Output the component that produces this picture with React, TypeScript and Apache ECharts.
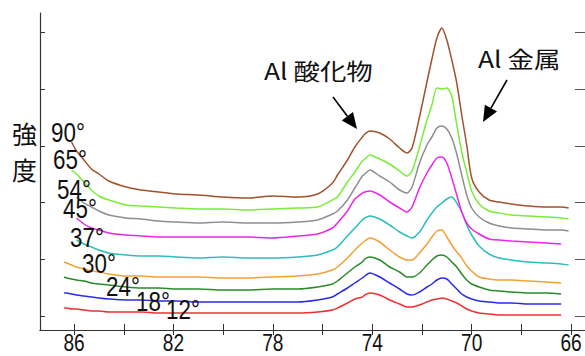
import React, { useEffect, useRef } from "react";
import * as echarts from "echarts";

// Binding energy (eV), axis reversed
const bindingEnergy = [86.4, 86.3, 86.1, 85.9, 85.6, 85.3, 85.0, 84.6, 83.9, 83.3, 82.6, 81.9, 81.0, 80.0, 79.0, 78.0, 77.0, 76.2, 75.6, 75.4, 75.0, 74.7, 74.4, 74.3, 74.1, 73.7, 73.3, 72.9, 72.6, 72.4, 72.1, 71.8, 71.6, 71.4, 71.2, 71.0, 70.8, 70.6, 70.4, 70.2, 70.0, 69.7, 69.3, 68.9, 68.4, 67.7, 67.0, 66.4, 66.1];

// Intensity (arbitrary units, offset stacked) for each take-off angle
const deg90 = [null, null, 188, 179, 170, 161, 156, 149, 143, 140, 138, 136, 135, 133, 132, 134, 133, 136, 147, 155, 170, 183, 193, 196, 199, 197, 191, 182, 177, 182, 213, 248, 271, 292, 302, 290, 270, 247, 215, 185, 152, 138, 130, 128, 126, 124, 123, 123, 122];
const deg65 = [null, null, 160, 156, 148, 140, 134, 130, 125, 124, 123, 122, 121, 121, 120, 121, 122, 123, 130, 133, 148, 158, 169, 171, 175, 171, 166, 159, 154, 159, 183, 210, 225, 242, 241, 242, 234, 205, 178, 158, 139, 126, 119, 117, 115, 114, 113, 112, 111];
const deg54 = [null, null, null, 133, 127, 123, 119, 115, 112, 111, 109, 108, 107, 108, 107, 107, 108, 110, 116, 119, 130, 142, 154, 156, 160, 154, 148, 140, 137, 143, 167, 185, 193, 202, 204, 201, 192, 176, 155, 135, 122, 113, 107, 104, 102, 101, 100, 100, 99];
const deg45 = [null, null, null, 112, 106, 102, 100, 97, 95, 94, 93, 93, 93, 93, 93, 92, 94, 96, 102, 107, 119, 131, 137, 138, 139, 135, 128, 122, 118, 123, 142, 157, 165, 172, 173, 167, 152, 135, 118, 107, 101, 96, 91, 90, 89, 88, 87, 86, null];
const deg37 = [null, null, null, 90, 86, 83, 80, 77, 75, 74, 74, 73, 72, 73, 72, 72, 73, 75, 80, 83, 94, 102, 110, 112, 114, 111, 105, 98, 94, 92, 98, 110, 117, 123, 127, 131, 133, 127, 118, 105, 95, 84, 76, 72, 70, 68, 67, 66, 65];
const deg30 = [68, 67, 65, 63, 61, 59, 58, 56, 54, 54, 53, 53, 53, 52, 52, 53, 54, 56, 60, 63, 72, 80, 87, 89, 92, 88, 80, 73, 70, 70, 77, 86, 93, 99, 100, 93, 85, 78, 72, 64, 59, 53, 51, 50, 50, 49, 48, 47, null];
const deg24 = [53, 52, 51, 50, 49, 47, 46, 45, 43, 42, 42, 41, 41, 40, 40, 41, 41, 43, 46, 49, 57, 63, 68, 71, 73, 70, 63, 58, 53, 53, 57, 65, 70, 74, 75, 73, 68, 63, 56, 50, 46, 43, 40, 39, 38, 37, 37, 36, null];
const deg18 = [37, 37, 36, 35, 34, 33, 32, 31, 30, 30, 29, 29, 28, 28, 28, 28, 28, 30, 33, 36, 42, 47, 52, 54, 57, 53, 47, 41, 36, 35, 38, 43, 46, 50, 52, 51, 46, 41, 36, 33, 31, 29, 28, 27, 27, 26, 26, 26, null];
const deg12 = [22, 22, 21, 21, 20, 19, 19, 18, 18, 18, 17, 17, 17, 17, 17, 17, 17, 18, 20, 22, 27, 31, 33, 35, 37, 35, 30, 26, 23, 23, 25, 28, 30, 31, 32, 31, 29, 27, 24, 21, 19, 17, 16, 15, 15, 15, 15, 15, null];

const angleNames = ["12°", "18°", "24°", "30°", "37°", "45°", "54°", "65°", "90°"];
const angleSeries = [deg12, deg18, deg24, deg30, deg37, deg45, deg54, deg65, deg90];
const colors = ["#ee3030", "#2b2be6", "#2a8a2a", "#f5a032", "#2cbdbd", "#ec25ec", "#8e8e8e", "#78ee38", "#a0522d"];

const xTickValues = [66, 68, 70, 72, 74, 76, 78, 80, 82, 84, 86];
const xLabelValues = [66, 70, 74, 78, 82, 86];
const yTickValues = [14, 71, 128, 184, 241, 298];

// label positions of the angle tags (left x, middle y)
const angleLabelPos = [
  [166, 309], [136, 301], [106, 286], [82, 263], [70, 237], [63, 208], [57, 189], [53, 159], [51, 132],
];

const LATIN = "'Liberation Sans', Arial, sans-serif";
const CJK = "'Noto Sans CJK JP', 'Noto Sans', sans-serif";

function arrow(x1: number, y1: number, x2: number, y2: number) {
  const dx = x2 - x1, dy = y2 - y1;
  const len = Math.sqrt(dx * dx + dy * dy);
  const ux = dx / len, uy = dy / len;
  const hl = 16, hw = 7;
  const bx = x2 - ux * hl, by = y2 - uy * hl;
  return [
    { type: "line", shape: { x1, y1, x2: bx, y2: by }, style: { stroke: "#000", lineWidth: 1.6 } },
    {
      type: "polygon",
      shape: { points: [[x2, y2], [bx - uy * hw, by + ux * hw], [bx + uy * hw, by - ux * hw]] },
      style: { fill: "#000" },
    },
  ];
}

export default function App() {
  const ref = useRef<HTMLDivElement>(null);
  useEffect(() => {
    if (!ref.current) return;
    const chart = echarts.init(ref.current, undefined, { renderer: "svg" });
    const axisColor = "#333";
    const xBase = {
      type: "value",
      inverse: true,
      min: 65.44,
      max: 87.37,
      splitLine: { show: false },
      axisLabel: { show: false },
      axisLine: { show: true, lineStyle: { color: axisColor, width: 1.2 } },
    };
    const yBase = {
      type: "value",
      min: 0,
      max: 317,
      splitLine: { show: false },
      axisLabel: { show: false },
    };
    const series = angleSeries.map((arr, i) => ({
      name: angleNames[i],
      type: "line",
      showSymbol: false,
      smooth: 0.25,
      lineStyle: { color: colors[i], width: 1.5 },
      itemStyle: { color: colors[i] },
      data: bindingEnergy.map((x, k) => [x, arr[k]]).filter((p) => p[1] !== null),
      z: 2,
    }));
    const staticGraphic: any[] = [
      {
        type: "text", x: 24.5, y: 151,
        style: { text: "強\n度", fontSize: 25, lineHeight: 36, fontFamily: CJK, fill: "#111", align: "center", verticalAlign: "middle", textAlign: "center", textVerticalAlign: "middle" },
      },
      {
        type: "text", x: 264, y: 70, scaleX: 1.15,
        style: { text: "Al 酸化物", fontSize: 23, fontFamily: CJK, fill: "#111", align: "left", verticalAlign: "middle", textAlign: "left", textVerticalAlign: "middle" },
      },
      {
        type: "text", x: 478, y: 58, scaleX: 1.15,
        style: { text: "Al 金属", fontSize: 23, fontFamily: CJK, fill: "#111", align: "left", verticalAlign: "middle", textAlign: "left", textVerticalAlign: "middle" },
      },
      ...arrow(333, 97, 357, 129),
      ...arrow(507, 80, 483, 122),
      ...angleNames.map((n, i) => ({
        type: "text", x: angleLabelPos[i][0], y: angleLabelPos[i][1], z: 10, scaleX: 0.8,
        style: { text: n, fontSize: 28, lineHeight: 22, fontFamily: LATIN, fill: "#111", align: "left", verticalAlign: "middle", textAlign: "left", textVerticalAlign: "middle" },
      })),
    ];
    chart.setOption({
      animation: false,
      grid: { left: 40, top: 13, width: 546, height: 317, containLabel: false },
      xAxis: [
        {
          ...xBase,
          position: "bottom",
          axisTick: { show: true, inside: true, length: 6, customValues: xTickValues, lineStyle: { color: axisColor } },
        },
        {
          ...xBase,
          position: "top",
          axisTick: { show: true, inside: true, length: 5, customValues: xTickValues, lineStyle: { color: axisColor } },
        },
      ],
      yAxis: [
        {
          ...yBase,
          position: "left",
          axisLine: { show: true, lineStyle: { color: axisColor, width: 1.2 } },
          axisTick: { show: true, inside: true, length: 5, customValues: yTickValues, lineStyle: { color: axisColor } },
        },
        {
          ...yBase,
          position: "right",
          axisLine: { show: false },
          axisTick: { show: true, inside: true, length: 10, customValues: yTickValues, lineStyle: { color: "#555" } },
        },
      ],
      series,
      graphic: staticGraphic,
    });
    // narrow tick labels of the energy axis, placed through the axis scale
    const labelGraphic = xLabelValues.map((v) => {
      const px = chart.convertToPixel({ xAxisIndex: 0 }, v) as number;
      return {
        type: "text", x: px, y: 342.5, scaleX: 0.78, originX: 0, originY: 0,
        style: { text: String(v), fontSize: 24.5, lineHeight: 20, fontFamily: LATIN, fill: "#111", align: "center", verticalAlign: "middle", textAlign: "center", textVerticalAlign: "middle" },
      };
    });
    chart.setOption({ graphic: [...staticGraphic, ...labelGraphic] });
    return () => chart.dispose();
  }, []);
  return <div ref={ref} style={{ position: "absolute", left: 0, top: 0, width: 585, height: 356 }} />;
}
